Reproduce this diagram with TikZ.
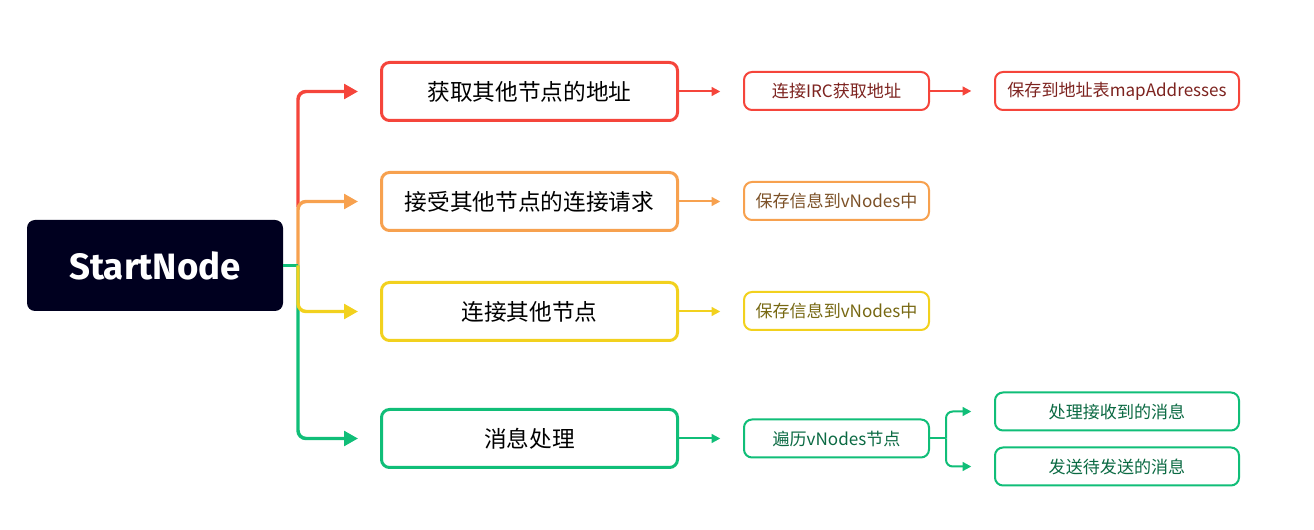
\documentclass[tikz,border=0pt]{standalone}
\usepackage{fontspec}
\setmainfont{Noto Sans CJK SC}
\newfontfamily\rootfont{Fira Sans}
\usetikzlibrary{arrows.meta}
\definecolor{cred}{HTML}{F5453B}
\definecolor{corange}{HTML}{F7A14F}
\definecolor{cyellow}{HTML}{F2D11E}
\definecolor{cgreen}{HTML}{10BE78}
\definecolor{croot}{HTML}{00001F}
\definecolor{tred}{HTML}{7D231F}
\definecolor{torange}{HTML}{7C5127}
\definecolor{tyellow}{HTML}{776812}
\definecolor{tgreen}{HTML}{0B6A43}
\tikzset{
  rootbox/.style={fill=croot, rounded corners=6pt, minimum width=192pt, minimum height=68.25pt, text=white, inner sep=0pt, font=\rootfont\bfseries\fontsize{27.5}{32}\selectfont},
  mainbox/.style={draw, line width=2.25pt, rounded corners=6pt, fill=white, minimum width=222pt, minimum height=43.5pt, inner sep=0pt, text=black, font=\fontsize{17}{20}\selectfont},
  smallbox/.style={draw, line width=1.5pt, rounded corners=6pt, fill=white, minimum height=28.5pt, inner sep=0pt, font=\fontsize{12.8}{15}\selectfont},
  sw/.style={minimum width=138.75pt},
  lw/.style={minimum width=183pt},
  trunk/.style={line width=2.6pt, rounded corners=6pt, -{Triangle[length=10.5pt,width=11pt]}, shorten >=16.5pt},
  plain/.style={line width=2.6pt},
  twig/.style={line width=1.5pt, rounded corners=5pt, -{Triangle[length=6.5pt,width=6.5pt]}, shorten >=17pt},
  twigplain/.style={line width=1.5pt}
}
\begin{document}
\begin{tikzpicture}[x=0.75pt,y=-0.75pt]
\useasboundingbox (0,0) rectangle (1314,530);
% root
\node[rootbox] (root) at (155,265.5) {StartNode};
\coordinate (split) at (298,265.5);
% main boxes
\node[mainbox, draw=cred] (a1) at (529.5,91.5) {获取其他节点的地址};
\node[mainbox, draw=corange] (a2) at (529.5,201.5) {接受其他节点的连接请求};
\node[mainbox, draw=cyellow] (a3) at (529.5,311.5) {连接其他节点};
\node[mainbox, draw=cgreen] (a4) at (529.5,438.5) {消息处理};
% second level
\node[smallbox, sw, draw=cred, text=tred] (b1) at (836.5,91) {连接IRC获取地址};
\node[smallbox, lw, draw=cred, text=tred] (c1) at (1117,91) {保存到地址表mapAddresses};
\node[smallbox, sw, draw=corange, text=torange] (b2) at (836.5,201) {保存信息到vNodes中};
\node[smallbox, sw, draw=cyellow, text=tyellow] (b3) at (836.5,311) {保存信息到vNodes中};
\node[smallbox, sw, draw=cgreen, text=tgreen] (b4) at (836.5,438.5) {遍历vNodes节点};
\node[smallbox, lw, draw=cgreen, text=tgreen] (c4a) at (1117,411.5) {处理接收到的消息};
\node[smallbox, lw, draw=cgreen, text=tgreen] (c4b) at (1117,466.5) {发送待发送的消息};
% trunk connectors
\draw[trunk, cred] (split) ++(0,-58) |- (a1.west);
\draw[trunk, corange] (split) |- (a2.west);
\draw[plain, cgreen] (root.east) -- (split);
\draw[trunk, cgreen] (split) |- (a4.west);
\draw[trunk, cyellow] (split) |- (a3.west);
% twig connectors
\draw[twig, cred] (a1.east) -- (a1.east -| b1.west);
\draw[twig, cred] (b1.east) -- (c1.west);
\draw[twig, corange] (a2.east) -- (a2.east -| b2.west);
\draw[twig, cyellow] (a3.east) -- (a3.east -| b3.west);
\draw[twig, cgreen] (a4.east) -- (a4.east -| b4.west);
\path (b4.east) ++(16,0) coordinate (gb);
\draw[twigplain, cgreen] (b4.east) -- (gb);
\draw[twig, cgreen] (gb) |- (c4a.west);
\draw[twig, cgreen] (gb) |- (c4b.west);
\end{tikzpicture}
\end{document}
